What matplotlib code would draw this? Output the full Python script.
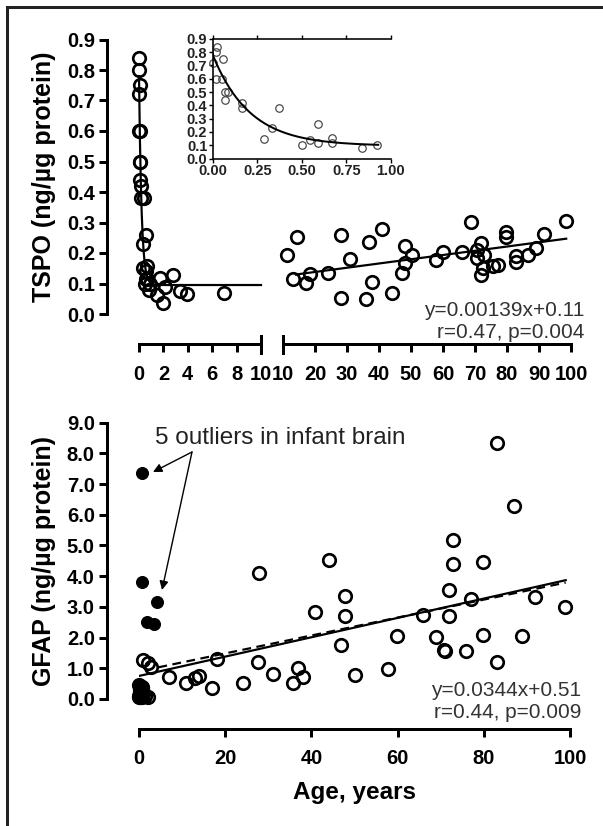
import numpy as np
import matplotlib
matplotlib.use("Agg")
import matplotlib.pyplot as plt
from matplotlib.lines import Line2D

plt.rcParams['font.family'] = ['Liberation Sans', 'DejaVu Sans']

# ---------------- data ----------------
# TSPO, infants (< 1 year)  (inset)
tspo_inf_age = [0.0, 0.019, 0.022, 0.06, 0.02, 0.05, 0.07, 0.085, 0.07, 0.163, 0.163,
                0.374, 0.335, 0.29, 0.59, 0.50, 0.547, 0.59, 0.67, 0.67, 0.84, 0.925]
tspo_inf_val = [0.72, 0.80, 0.84, 0.75, 0.60, 0.60, 0.50, 0.50, 0.44, 0.42, 0.38,
                0.38, 0.23, 0.15, 0.26, 0.10, 0.14, 0.115, 0.156, 0.115, 0.08, 0.10]
# TSPO, children 1-10 years
tspo_child_age = [1.45, 1.7, 1.94, 2.1, 2.76, 3.36, 3.96, 6.97]
tspo_child_val = [0.062, 0.117, 0.037, 0.09, 0.128, 0.076, 0.066, 0.07]
# TSPO, adults 10-100 years
tspo_adult_age = [11.2, 14.5, 13.2, 17.1, 18.4, 24.2, 28.0, 28.0, 30.9, 35.8, 36.9, 37.9,
                  41.0, 44.0, 47.1, 48.1, 48.1, 50.2, 57.7, 59.9, 65.8, 68.7, 70.5, 70.7,
                  71.8, 72.8, 71.8, 72.6, 75.7, 77.1, 79.7, 79.7, 82.7, 82.7, 86.7, 89.0,
                  91.6, 98.4]
tspo_adult_val = [0.193, 0.253, 0.114, 0.103, 0.13, 0.135, 0.259, 0.051, 0.179, 0.049,
                  0.237, 0.104, 0.279, 0.068, 0.135, 0.224, 0.166, 0.193, 0.177, 0.204,
                  0.204, 0.303, 0.21, 0.185, 0.234, 0.193, 0.128, 0.15, 0.157, 0.161,
                  0.27, 0.253, 0.19, 0.172, 0.193, 0.215, 0.262, 0.306]
# exponential decay fit (infants) and linear fit (adults)
decay_y0, decay_plateau, decay_k = 0.78, 0.095, 4.8
tspo_slope, tspo_icpt = 0.00139, 0.11
tspo_eq = ["y=0.00139x+0.11", "r=0.47, p=0.004"]

# GFAP
gfap_out_age = [0.6, 0.6, 4.1, 1.8, 3.5]
gfap_out_val = [7.35, 3.82, 3.17, 2.52, 2.44]
gfap_age = [0.05, 0.1, 0.2, 0.3, 0.4, 0.5, 0.6, 0.7, 0.8, 0.9, 0.1, 0.2, 0.3, 0.5, 0.7,
            1.0, 1.5, 2.0, 0.15, 0.25,
            1.0, 2.2, 2.9, 7.0, 10.9, 13.0, 14.0, 16.9, 18.0, 24.1, 27.9, 27.7, 31.0,
            35.8, 36.8, 38.1, 40.8, 44.1, 46.9, 47.9, 47.9, 50.0, 57.8, 59.8, 66.0,
            68.8, 70.8, 70.9, 71.9, 71.9, 72.9, 72.9, 75.8, 77.0, 79.7, 79.9, 83.0,
            83.0, 86.9, 88.8, 91.9, 98.8]
gfap_val = [0.05, 0.1, 0.15, 0.2, 0.25, 0.3, 0.35, 0.4, 0.1, 0.2, 0.45, 0.05, 0.3, 0.12,
            0.08, 0.2, 0.1, 0.05, 0.38, 0.22,
            1.27, 1.16, 1.03, 0.73, 0.51, 0.67, 0.75, 0.35, 1.29, 0.53, 4.11, 1.21, 0.81,
            0.51, 1.0, 0.73, 2.84, 4.53, 1.76, 3.37, 2.70, 0.77, 0.98, 2.06, 2.74,
            2.01, 1.60, 1.55, 3.55, 2.70, 5.18, 4.39, 1.56, 3.25, 4.45, 2.08, 8.33,
            1.21, 6.29, 2.05, 3.31, 3.01]
gfap_fit_solid = (0.75, 0.0315, 0.0, 99.0)     # intercept, slope, x from, x to
gfap_fit_dashed = (0.90, 0.0292, 4.5, 99.0)
gfap_eq = ["y=0.0344x+0.51", "r=0.44, p=0.009"]
outlier_note = "5 outliers in infant brain"

# ---------------- figure ----------------
W, H = 603, 826
DPI = 100
fig = plt.figure(figsize=(W / DPI, H / DPI), dpi=DPI)
PT = 72.0 / DPI  # px -> pt


def ax_at(x0, x1, ytop, ybot):
    return fig.add_axes([x0 / W, 1 - ybot / H, (x1 - x0) / W, (ybot - ytop) / H])


def fig_xy(px, py):
    return (px / W, 1 - py / H)


LW = 3 * PT
TICKFS = 14.5
LABFS = 18
EQFS = 15
circ = dict(ls='none', marker='o', ms=12.5 * PT, mfc='none', mec='black',
            mew=2.7 * PT, clip_on=False, zorder=3)


def style(ax, left=True):
    for s in ['top', 'right']:
        ax.spines[s].set_visible(False)
    ax.spines['bottom'].set_linewidth(LW)
    ax.spines['left'].set_linewidth(LW)
    ax.spines['bottom'].set_position(('outward', 30 * PT))
    ax.spines['left'].set_position(('outward', 32 * PT))
    if not left:
        ax.spines['left'].set_visible(False)
        ax.tick_params(axis='y', left=False, labelleft=False)
    ax.tick_params(width=LW, length=8 * PT, direction='out', labelsize=TICKFS, pad=3)
    ax.tick_params(axis='x', pad=9)
    for lab in ax.get_xticklabels() + ax.get_yticklabels():
        lab.set_fontweight('bold')
    ax.patch.set_alpha(0)


# top-left: 0-10 years
a1 = ax_at(139, 261, 39.5, 314)
a1.set_xlim(0, 10)
a1.set_ylim(0, 0.9)
a1.set_xticks(range(0, 11, 2))
a1.set_yticks(np.arange(0, 0.91, 0.1))
a1.set_yticklabels([f"{v:.1f}" for v in np.arange(0, 0.91, 0.1)])
style(a1)
a1.plot(tspo_inf_age + tspo_child_age, tspo_inf_val + tspo_child_val, **circ)
xx = np.linspace(0, 10, 400)
a1.plot(xx, decay_plateau + (decay_y0 - decay_plateau) * np.exp(-decay_k * xx),
        color='black', lw=2.2 * PT, zorder=2, clip_on=False)
a1.set_ylabel("TSPO (ng/\u00b5g protein)", fontsize=LABFS, fontweight='bold')
a1.yaxis.set_label_coords((56 - 139) / 122, 0.5)

# top-right: 10-100 years
a2 = ax_at(283, 571, 39.5, 314)
a2.set_xlim(10, 100)
a2.set_ylim(0, 0.9)
a2.set_xticks(range(10, 101, 10))
style(a2, left=False)
a2.plot(tspo_adult_age, tspo_adult_val, **circ)
xl = np.array([14, 98.5])
a2.plot(xl, tspo_slope * xl + tspo_icpt, color='black', lw=2.2 * PT, zorder=2)

# break end bars
for x in (261, 283):
    fig.add_artist(Line2D([x / W, x / W], [1 - 336 / H, 1 - 353 / H],
                          color='black', lw=LW))

for i, t in enumerate(tspo_eq):
    fig.text(*fig_xy(584, 311 + 22 * i), t, ha='right', va='center',
             fontsize=EQFS, color='#333333')

# inset
ai = ax_at(212.7, 390.7, 38.8, 158.5)
ai.set_xlim(0, 1.0)
ai.set_ylim(0, 0.9)
ai.spines['right'].set_visible(False)
for s in ['top', 'left', 'bottom']:
    ai.spines[s].set_linewidth(1.6 * PT)
ai.set_xticks([0, 0.25, 0.5, 0.75, 1.0])
ai.set_xticklabels(["0.00", "0.25", "0.50", "0.75", "1.00"])
ai.set_yticks(np.arange(0, 0.91, 0.1))
ai.set_yticklabels([f"{v:.1f}" for v in np.arange(0, 0.91, 0.1)])
ai.tick_params(width=1.4 * PT, length=4 * PT, labelsize=10.5, pad=1, top=True,
               labeltop=False)
for lab in ai.get_xticklabels() + ai.get_yticklabels():
    lab.set_fontweight('bold')
    lab.set_color('#222222')
ai.plot(tspo_inf_age, tspo_inf_val, ls='none', marker='o', ms=7.5 * PT, mfc='none',
        mec='#444444', mew=1.2 * PT, clip_on=False)
xi = np.linspace(0, 0.93, 200)
ai.plot(xi, decay_plateau + (decay_y0 - decay_plateau) * np.exp(-decay_k * xi),
        color='black', lw=2.0 * PT)
ai.patch.set_alpha(0)

# bottom panel
b = ax_at(139, 570, 422.6, 699)
b.set_xlim(0, 100)
b.set_ylim(0, 9)
b.set_xticks(range(0, 101, 20))
b.set_yticks(range(0, 10))
b.set_yticklabels([f"{v:.1f}" for v in range(0, 10)])
style(b)
b.plot(gfap_age, gfap_val, **circ)
b.plot(gfap_out_age, gfap_out_val, ls='none', marker='o', ms=12 * PT, mfc='black',
       mec='black', mew=1 * PT, clip_on=False, zorder=4)
i0, s0, f0, t0 = gfap_fit_solid
xs = np.array([f0, t0])
b.plot(xs, i0 + s0 * xs, color='black', lw=2.2 * PT, zorder=2)
i1, s1, f1, t1 = gfap_fit_dashed
xd = np.array([f1, t1])
b.plot(xd, i1 + s1 * xd, color='black', lw=2.2 * PT, ls=(0, (4, 2.5)), zorder=2)
b.set_ylabel("GFAP (ng/\u00b5g protein)", fontsize=LABFS, fontweight='bold')
b.yaxis.set_label_coords((56 - 139) / 431, 0.5)
b.set_xlabel("Age, years", fontsize=17.5, fontweight='bold', labelpad=9)

for i, t in enumerate(gfap_eq):
    fig.text(*fig_xy(581, 690 + 23 * i), t, ha='right', va='center',
             fontsize=EQFS, color='#333333')

fig.text(*fig_xy(155, 438), outlier_note, fontsize=17.5, va='center', ha='left',
         color='#222222')
arrow_start = fig_xy(192, 452)
for head in [fig_xy(153, 472), fig_xy(162, 590)]:
    fig.add_artist(matplotlib.patches.FancyArrowPatch(
        arrow_start, head, transform=fig.transFigure, arrowstyle='-|>',
        color='black', lw=1.0, mutation_scale=13, shrinkA=0, shrinkB=0))

# outer frame (top and left)
fig.add_artist(Line2D([7 / W, 1.0], [1 - 7 / H, 1 - 7 / H], color='#222222', lw=LW))
fig.add_artist(Line2D([7 / W, 7 / W], [1 - 7 / H, 0.0], color='#222222', lw=LW))

fig.savefig("out.png", dpi=DPI)
